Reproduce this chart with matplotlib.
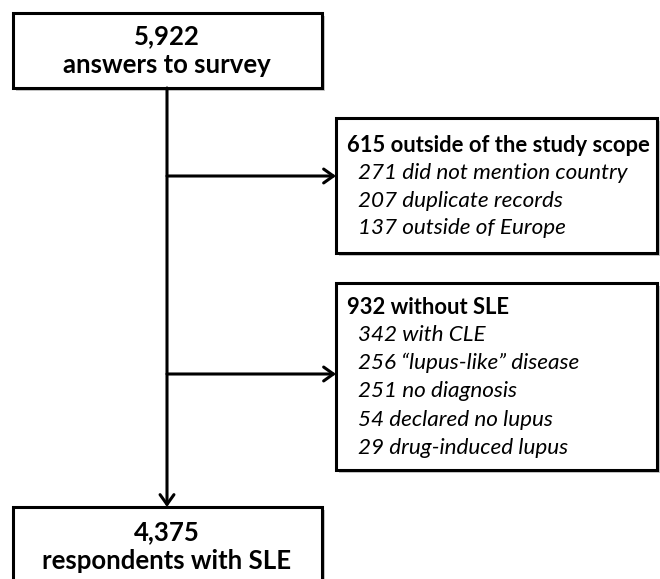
import matplotlib
matplotlib.use("Agg")
import matplotlib.pyplot as plt
from matplotlib.patches import Rectangle, FancyArrowPatch

top_number = "5,922"
top_label = "answers to survey"
bottom_number = "4,375"
bottom_label = "respondents with SLE"
excl1_title = "615 outside of the study scope"
excl1_items = ["271 did not mention country", "207 duplicate records", "137 outside of Europe"]
excl2_title = "932 without SLE"
excl2_items = ["342 with CLE", "256 \u201clupus-like\u201d disease", "251 no diagnosis",
               "54 declared no lupus", "29 drug-induced lupus"]

FONT = ["Lato", "DejaVu Sans"]
FS_MAIN = 18.5
FS_TITLE = 15.8
FS_ITEM = 16.2

fig = plt.figure(figsize=(6.6, 5.79), dpi=100)
ax = fig.add_axes([0, 0, 1, 1])
ax.set_xlim(0, 660)
ax.set_ylim(579, 0)
ax.axis("off")

def box(x0, y0, x1, y1):
    ax.add_patch(Rectangle((x0 + 3, y0 + 3), x1 - x0, y1 - y0, facecolor="#c8c8c8",
                           edgecolor="none", zorder=1))
    ax.add_patch(Rectangle((x0, y0), x1 - x0, y1 - y0, facecolor="white",
                           edgecolor="black", lw=2.2, zorder=2))

# boxes
box(13, 13, 322, 88)
box(13, 507, 322, 600)
box(336, 118, 657, 253)
box(336, 283, 657, 470)

# main vertical line and arrows
ax.add_patch(FancyArrowPatch((167, 88), (167, 507), arrowstyle="->,head_length=7,head_width=5",
                             lw=2.2, color="black", zorder=3, shrinkA=0, shrinkB=0))
for yy in (176, 374):
    ax.add_patch(FancyArrowPatch((167, yy), (336, yy), arrowstyle="->,head_length=7,head_width=5",
                                 lw=2.2, color="black", zorder=3, shrinkA=0, shrinkB=0))

# top / bottom box text
ax.text(167, 36, top_number, ha="center", va="center", fontsize=FS_MAIN, fontweight="bold", family=FONT, zorder=4)
ax.text(167, 65, top_label, ha="center", va="center", fontsize=FS_MAIN, fontweight="bold", family=FONT, zorder=4)
ax.text(167, 532, bottom_number, ha="center", va="center", fontsize=FS_MAIN, fontweight="bold", family=FONT, zorder=4)
ax.text(167, 561, bottom_label, ha="center", va="center", fontsize=FS_MAIN, fontweight="bold", family=FONT, zorder=4)

# exclusion box 1
ax.text(347, 145, excl1_title, ha="left", va="center", fontsize=FS_TITLE, fontweight="bold", family=FONT, zorder=4)
for i, t in enumerate(excl1_items):
    ax.text(358, 173 + 27.7 * i, t, ha="left", va="center", fontsize=FS_ITEM, style="italic", family=FONT, zorder=4)

# exclusion box 2
ax.text(347, 307, excl2_title, ha="left", va="center", fontsize=FS_TITLE, fontweight="bold", family=FONT, zorder=4)
for i, t in enumerate(excl2_items):
    ax.text(358, 335 + 28.2 * i, t, ha="left", va="center", fontsize=FS_ITEM, style="italic", family=FONT, zorder=4)

fig.savefig("out.png", dpi=100, facecolor="white")
